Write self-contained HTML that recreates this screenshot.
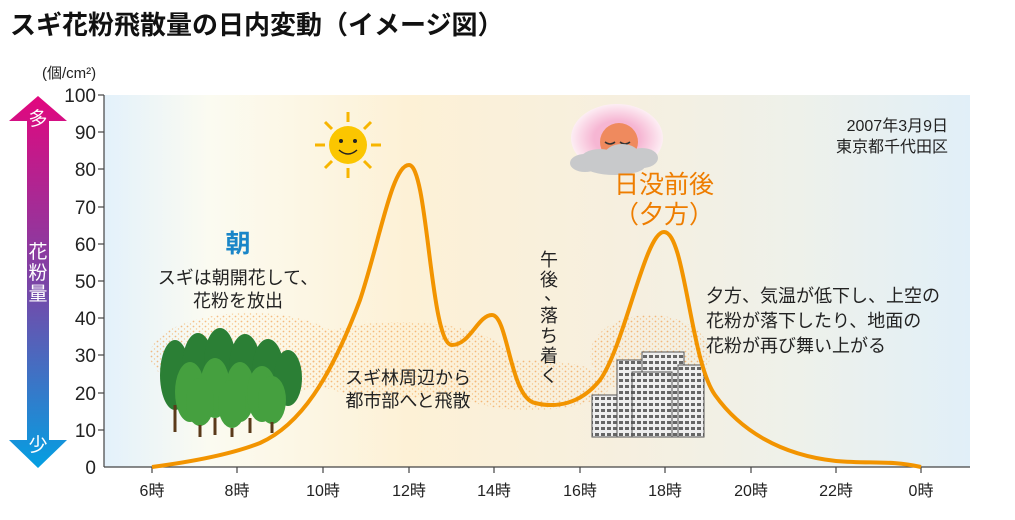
<!DOCTYPE html>
<html><head><meta charset="utf-8"><style>
body{margin:0;background:#fff;width:1015px;height:515px;overflow:hidden;font-family:"Liberation Sans","Noto Sans CJK JP",sans-serif}
</style></head><body>
<svg width="1015" height="515" viewBox="0 0 1015 515" xmlns="http://www.w3.org/2000/svg" font-family="Liberation Sans, Noto Sans CJK JP, sans-serif">
<defs>
<linearGradient id="bg" x1="0" x2="1" y1="0" y2="0">
<stop offset="0" stop-color="#e3f1fb"/><stop offset="0.12" stop-color="#fbfbf1"/><stop offset="0.35" stop-color="#fdf1d6"/><stop offset="0.6" stop-color="#f6efdf"/><stop offset="0.8" stop-color="#eef1ea"/><stop offset="1" stop-color="#e1eff8"/>
</linearGradient>
<linearGradient id="ar" x1="0" x2="0" y1="0" y2="1">
<stop offset="0" stop-color="#e2077e"/><stop offset="0.5" stop-color="#7b44a6"/><stop offset="1" stop-color="#049fe2"/>
</linearGradient>
<radialGradient id="glow"><stop offset="0.5" stop-color="#f6b6d3"/><stop offset="1" stop-color="#fdeef4"/></radialGradient>
<pattern id="dots" width="6" height="5" patternUnits="userSpaceOnUse"><circle cx="1.5" cy="1.5" r="0.9" fill="#f08a2a"/><circle cx="4.5" cy="4" r="0.7" fill="#f5a040"/></pattern>
<pattern id="win" width="6" height="6" patternUnits="userSpaceOnUse"><rect width="6" height="6" fill="#eee"/><rect x="1" y="1" width="4" height="3" fill="#666"/></pattern>
</defs>
<text x="10" y="34" font-size="26" font-weight="bold" fill="#111">スギ花粉飛散量の日内変動（イメージ図）</text>
<rect x="104" y="95" width="866" height="372" fill="url(#bg)"/>
<text x="42" y="78" font-size="15" fill="#222">(個/cm²)</text>
<g font-size="19" fill="#222" text-anchor="end">
<text x="96" y="102">100</text><text x="96" y="139">90</text><text x="96" y="176">80</text><text x="96" y="214">70</text><text x="96" y="251">60</text><text x="96" y="288">50</text><text x="96" y="325">40</text><text x="96" y="362">30</text><text x="96" y="400">20</text><text x="96" y="437">10</text><text x="96" y="474">0</text>
</g>
<g stroke="#444" stroke-width="1.2">
<line x1="104" y1="95" x2="104" y2="467"/><line x1="104" y1="467" x2="970" y2="467"/>
<line x1="98" y1="95" x2="104" y2="95"/><line x1="98" y1="132" x2="104" y2="132"/><line x1="98" y1="169" x2="104" y2="169"/><line x1="98" y1="207" x2="104" y2="207"/><line x1="98" y1="244" x2="104" y2="244"/><line x1="98" y1="281" x2="104" y2="281"/><line x1="98" y1="318" x2="104" y2="318"/><line x1="98" y1="355" x2="104" y2="355"/><line x1="98" y1="393" x2="104" y2="393"/><line x1="98" y1="430" x2="104" y2="430"/>
<line x1="152" y1="467" x2="152" y2="473"/><line x1="237" y1="467" x2="237" y2="473"/><line x1="323" y1="467" x2="323" y2="473"/><line x1="409" y1="467" x2="409" y2="473"/><line x1="494" y1="467" x2="494" y2="473"/><line x1="580" y1="467" x2="580" y2="473"/><line x1="665" y1="467" x2="665" y2="473"/><line x1="751" y1="467" x2="751" y2="473"/><line x1="836" y1="467" x2="836" y2="473"/><line x1="921" y1="467" x2="921" y2="473"/>
</g>
<g font-size="16" fill="#222" text-anchor="middle">
<text x="152" y="496">6時</text><text x="237" y="496">8時</text><text x="323" y="496">10時</text><text x="409" y="496">12時</text><text x="494" y="496">14時</text><text x="580" y="496">16時</text><text x="665" y="496">18時</text><text x="751" y="496">20時</text><text x="836" y="496">22時</text><text x="921" y="496">0時</text>
</g>
<path d="M38,96 L67,121 L49,121 L49,440 L67,440 L38,468 L9,440 L27,440 L27,121 L9,121 Z" fill="url(#ar)"/>
<g fill="#fff" font-size="19" text-anchor="middle"><text x="38" y="125">多</text><text x="38" y="258">花</text><text x="38" y="279">粉</text><text x="38" y="300">量</text><text x="38" y="451">少</text></g>
<g opacity="0.55" fill="url(#dots)">
<ellipse cx="250" cy="355" rx="100" ry="42"/><ellipse cx="400" cy="360" rx="110" ry="38"/><ellipse cx="530" cy="385" rx="80" ry="25"/><ellipse cx="650" cy="355" rx="60" ry="40"/>
</g>
<g>
<g fill="#2b7f35">
<ellipse cx="175" cy="375" rx="15" ry="35"/><ellipse cx="198" cy="368" rx="16" ry="35"/><ellipse cx="220" cy="362" rx="16" ry="34"/><ellipse cx="245" cy="368" rx="16" ry="34"/><ellipse cx="268" cy="372" rx="16" ry="33"/><ellipse cx="288" cy="378" rx="14" ry="28"/>
</g>
<g fill="#45a03f"><ellipse cx="190" cy="392" rx="15" ry="30"/><ellipse cx="215" cy="388" rx="15" ry="30"/><ellipse cx="240" cy="392" rx="15" ry="30"/><ellipse cx="262" cy="394" rx="15" ry="28"/>
<ellipse cx="200" cy="402" rx="14" ry="24"/><ellipse cx="232" cy="404" rx="14" ry="24"/><ellipse cx="272" cy="400" rx="14" ry="24"/></g>
<g stroke="#5a3a1a" stroke-width="3"><line x1="175" y1="405" x2="175" y2="432"/><line x1="200" y1="425" x2="200" y2="437"/><line x1="232" y1="428" x2="232" y2="437"/><line x1="272" y1="422" x2="272" y2="433"/><line x1="215" y1="418" x2="215" y2="435"/><line x1="250" y1="418" x2="250" y2="433"/></g>
</g>
<g stroke="#555" stroke-width="1" fill="url(#win)">
<rect x="592" y="395" width="40" height="42"/><rect x="617" y="360" width="38" height="77"/><rect x="642" y="352" width="42" height="85"/><rect x="632" y="372" width="40" height="65"/><rect x="678" y="365" width="26" height="72"/>
</g>
<path d="M152,467 C190,462 230,455 260,443 C300,425 330,380 360,300 C380,240 392,165 409,165 C428,165 430,345 452,345 C470,345 478,315 492,315 C508,315 510,398 535,403 C555,408 580,405 600,380 C625,345 645,232 664,232 C685,232 690,360 715,395 C740,430 780,455 836,461 C870,464 890,460 921,467" fill="none" stroke="#f29400" stroke-width="4"/>
<g stroke="#f7b500" stroke-width="3">
<line x1="348" y1="112" x2="348" y2="122"/><line x1="348" y1="168" x2="348" y2="178"/><line x1="315" y1="145" x2="325" y2="145"/><line x1="371" y1="145" x2="381" y2="145"/><line x1="325" y1="122" x2="332" y2="129"/><line x1="371" y1="122" x2="364" y2="129"/><line x1="325" y1="168" x2="332" y2="161"/><line x1="371" y1="168" x2="364" y2="161"/>
</g>
<circle cx="348" cy="145" r="19" fill="#fbc600"/>
<circle cx="341" cy="141" r="2" fill="#222"/><circle cx="355" cy="141" r="2" fill="#222"/>
<path d="M339,150 Q348,158 357,150" fill="none" stroke="#222" stroke-width="1.5"/>
<ellipse cx="617" cy="138" rx="46" ry="34" fill="url(#glow)"/>
<circle cx="619" cy="142" r="19" fill="#ef8a5e"/>
<path d="M605,142 q5,4 10,0 M620,142 q5,4 10,0" stroke="#333" stroke-width="1.5" fill="none"/>
<g fill="#c8c9cb"><ellipse cx="600" cy="160" rx="20" ry="11"/><ellipse cx="622" cy="156" rx="18" ry="12"/><ellipse cx="642" cy="158" rx="16" ry="10"/><ellipse cx="585" cy="163" rx="15" ry="9"/><ellipse cx="615" cy="166" rx="30" ry="9"/></g>
<text x="238" y="252" font-size="25" font-weight="bold" fill="#1a86c8" text-anchor="middle">朝</text>
<text x="238" y="284" font-size="18" fill="#222" text-anchor="middle">スギは朝開花して、</text>
<text x="238" y="307" font-size="18" fill="#222" text-anchor="middle">花粉を放出</text>
<text x="408" y="384" font-size="18" fill="#222" text-anchor="middle">スギ林周辺から</text>
<text x="408" y="407" font-size="18" fill="#222" text-anchor="middle">都市部へと飛散</text>
<g font-size="18" fill="#222" text-anchor="middle">
<text x="549" y="266">午</text><text x="549" y="286">後</text><text x="553" y="300">、</text><text x="549" y="322">落</text><text x="549" y="342">ち</text><text x="549" y="362">着</text><text x="549" y="382">く</text>
</g>
<text x="664" y="193" font-size="25" fill="#ee7d00" text-anchor="middle">日没前後</text>
<text x="664" y="223" font-size="25" fill="#ee7d00" text-anchor="middle">（夕方）</text>
<text x="706" y="302" font-size="18" fill="#222">夕方、気温が低下し、上空の</text>
<text x="706" y="327" font-size="18" fill="#222">花粉が落下したり、地面の</text>
<text x="706" y="352" font-size="18" fill="#222">花粉が再び舞い上がる</text>
<text x="948" y="131" font-size="16" fill="#222" text-anchor="end">2007年3月9日</text>
<text x="948" y="152" font-size="16" fill="#222" text-anchor="end">東京都千代田区</text>
</svg>
</body></html>
